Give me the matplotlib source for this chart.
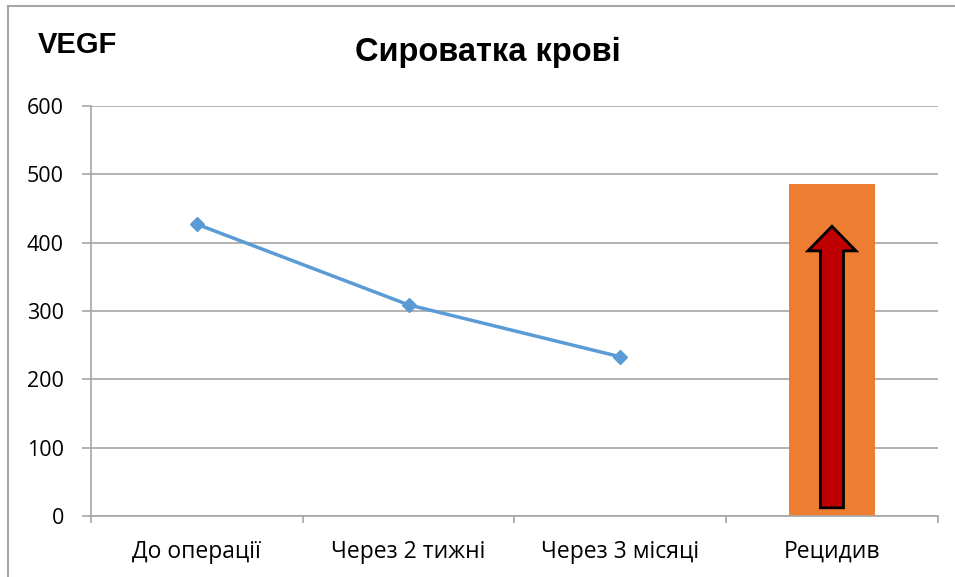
import matplotlib.pyplot as plt
from matplotlib.patches import FancyArrow
from matplotlib.lines import Line2D

plt.rcParams['font.family'] = ['Open Sans', 'DejaVu Sans']

categories = ['До операції', 'Через 2 тижні', 'Через 3 місяці', 'Рецидив']
line_values = [427, 309, 233]
relapse_value = 486
arrow_start = 12
arrow_end = 424
y_ticks = [0, 100, 200, 300, 400, 500, 600]

fig = plt.figure(figsize=(9.55, 5.77), dpi=100)
ax = fig.add_axes([0.0953, 0.1057, 0.8867, 0.7106])

# gridlines
ax.set_axisbelow(True)
ax.grid(axis='y', color='#a6a6a6', linewidth=1.2)

# relapse bar
ax.bar([3], [relapse_value], width=0.406, color='#ED7D31', zorder=2)

# line series
ax.plot(range(len(line_values)), line_values, color='#5B9BD5', linewidth=2.5,
        marker='D', markersize=7, zorder=3)

# red arrow inside the bar
arrow = FancyArrow(3, arrow_start, 0, arrow_end - arrow_start, width=0.109,
                   head_width=0.227, head_length=36, length_includes_head=True,
                   facecolor='#C00000', edgecolor='black', linewidth=2, zorder=4)
ax.add_patch(arrow)

ax.set_xlim(-0.5, 3.5)
ax.set_ylim(0, 600)
ax.set_yticks(y_ticks)
ax.set_xticks(range(len(categories)))
ax.set_xticklabels(categories)
ax.set_xticks([-0.5, 0.5, 1.5, 2.5, 3.5], minor=True)

for side in ['top', 'right']:
    ax.spines[side].set_visible(False)
ax.spines['left'].set_color('#a6a6a6')
ax.spines['bottom'].set_color('#a6a6a6')
ax.spines['left'].set_linewidth(1.2)
ax.spines['bottom'].set_linewidth(1.2)

ax.tick_params(axis='y', length=6.5, color='#a6a6a6', width=1.2, labelsize=15.5, pad=13)
ax.tick_params(axis='x', which='major', length=0, labelsize=16.5, pad=17)
ax.tick_params(axis='x', which='minor', length=5, color='#a6a6a6', width=1.2)

fig.text(0.511, 0.91, 'Сироватка крові', ha='center', va='center',
         fontsize=23.5, fontweight='bold', family=['Liberation Sans', 'DejaVu Sans'])
fig.text(0.040, 0.922, 'VEGF', ha='left', va='center',
         fontsize=21, fontweight='bold', family=['Liberation Sans', 'DejaVu Sans'])

# chart frame (top and left edges visible)
fig.add_artist(Line2D([8 / 955, 1], [1 - 6 / 577, 1 - 6 / 577], color='#a6a6a6', linewidth=1.5))
fig.add_artist(Line2D([8 / 955, 8 / 955], [0, 1 - 6 / 577], color='#a6a6a6', linewidth=1.5))

plt.savefig('out.png', dpi=100)
